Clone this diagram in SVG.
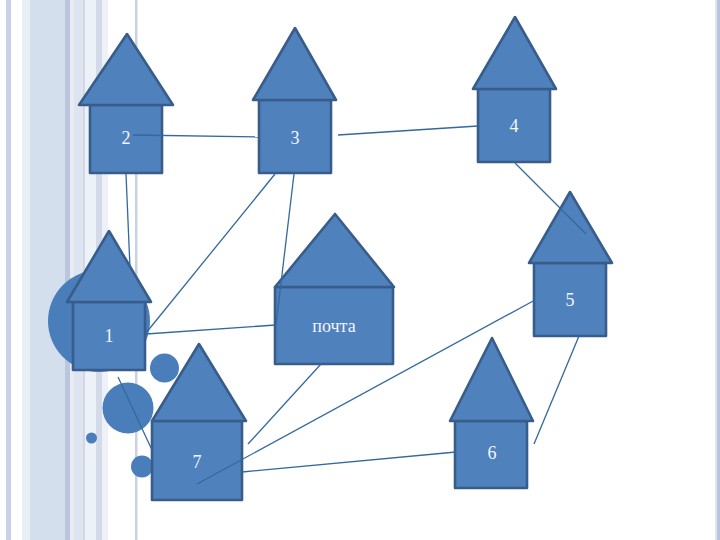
<svg xmlns="http://www.w3.org/2000/svg" width="720" height="540" viewBox="0 0 720 540">
  <style>
    .wall { fill: #4f81bd; stroke: #385d8a; stroke-width: 2.6; stroke-linejoin: round; }
    .dot { fill: #4a7ebb; }
    .link { fill: none; stroke: #33699f; stroke-width: 1.3; }
    text { font-family: "Liberation Serif", "DejaVu Serif", serif; font-size: 18px; fill: #f2f6fb; text-anchor: middle; }
  </style>

  <!-- page background stripes -->
  <rect width="720" height="540" fill="#ffffff"/>
  <g id="stripes">
    <rect x="6" y="0" width="5" height="540" fill="#c9d1e6"/>
    <rect x="22" y="0" width="8" height="540" fill="#eaeff6"/>
    <rect x="30" y="0" width="35" height="540" fill="#d3dfec"/>
    <rect x="65" y="0" width="5" height="540" fill="#b9c6de"/>
    <rect x="70" y="0" width="38" height="540" fill="#e6ebf4"/>
    <rect x="74" y="0" width="9" height="540" fill="#dee4f0"/>
    <rect x="83" y="0" width="2" height="540" fill="#d0d8e6"/>
    <rect x="85" y="0" width="11" height="540" fill="#edf1f8"/>
    <rect x="96" y="0" width="6" height="540" fill="#d4dbe8"/>
    <rect x="102" y="0" width="6" height="540" fill="#eef1f8"/>
    <rect x="135" y="0" width="2.500" height="540" fill="#c9d1e6"/>
    <rect x="715" y="0" width="2" height="540" fill="#dfe4f0"/>
    <rect x="717" y="0" width="3" height="540" fill="#b9c4de"/>
  </g>

  <!-- decorative circles -->
  <g id="circles">
    <circle class="dot" cx="99" cy="321" r="51"/>
    <circle class="dot" cx="164.500" cy="368" r="14.500"/>
    <circle class="dot" cx="128" cy="408" r="25.500"/>
    <circle class="dot" cx="91.500" cy="438" r="5.500"/>
    <circle class="dot" cx="142" cy="466.500" r="11"/>
  </g>

  <g id="house-1">
    <rect class="wall" x="73" y="302" width="72" height="68"/>
    <polygon class="wall" points="109,231 151,302 67,302"/>
    <text x="109" y="342">1</text>
  </g>
  <g id="house-2">
    <rect class="wall" x="90" y="105" width="72" height="68"/>
    <polygon class="wall" points="127,34 173,105 79,105"/>
    <text x="126" y="144">2</text>
  </g>
  <g id="house-3">
    <rect class="wall" x="259" y="100" width="72" height="73"/>
    <polygon class="wall" points="295,28 336,100 253,100"/>
    <text x="295" y="144">3</text>
  </g>
  <g id="house-4">
    <rect class="wall" x="478" y="89" width="72" height="73"/>
    <polygon class="wall" points="515,17 556,89 473,89"/>
    <text x="514" y="132">4</text>
  </g>
  <g id="house-5">
    <rect class="wall" x="534" y="263" width="72" height="73"/>
    <polygon class="wall" points="570,192 612,263 529,263"/>
    <text x="570" y="306">5</text>
  </g>
  <g id="house-6">
    <rect class="wall" x="455" y="421" width="72" height="67"/>
    <polygon class="wall" points="492,338 533,421 450,421"/>
    <text x="492" y="459">6</text>
  </g>
  <g id="house-7">
    <rect class="wall" x="152" y="421" width="90" height="79"/>
    <polygon class="wall" points="199,344 246,421 152,421"/>
    <text x="197" y="468">7</text>
  </g>
  <g id="house-post">
    <rect class="wall" x="275" y="287" width="118" height="77"/>
    <polygon class="wall" points="335,214 394,287 275,287"/>
    <text x="334" y="332">почта</text>
  </g>

  <!-- connectors -->
  <g id="connectors">
    <line class="link" x1="133" y1="135" x2="259" y2="137"/>
    <line class="link" x1="126" y1="174" x2="130" y2="268"/>
    <line class="link" x1="275" y1="174" x2="146" y2="333"/>
    <line class="link" x1="294" y1="174" x2="276" y2="325"/>
    <line class="link" x1="276" y1="325" x2="146" y2="334"/>
    <line class="link" x1="321" y1="364" x2="248" y2="444"/>
    <line class="link" x1="338" y1="135" x2="478" y2="126"/>
    <line class="link" x1="515" y1="163" x2="586" y2="234"/>
    <line class="link" x1="579" y1="336" x2="534" y2="444"/>
    <line class="link" x1="456" y1="452" x2="242" y2="472"/>
    <line class="link" x1="535" y1="300" x2="197" y2="484"/>
    <line class="link" x1="118" y1="377" x2="152" y2="450"/>
  </g>
</svg>
